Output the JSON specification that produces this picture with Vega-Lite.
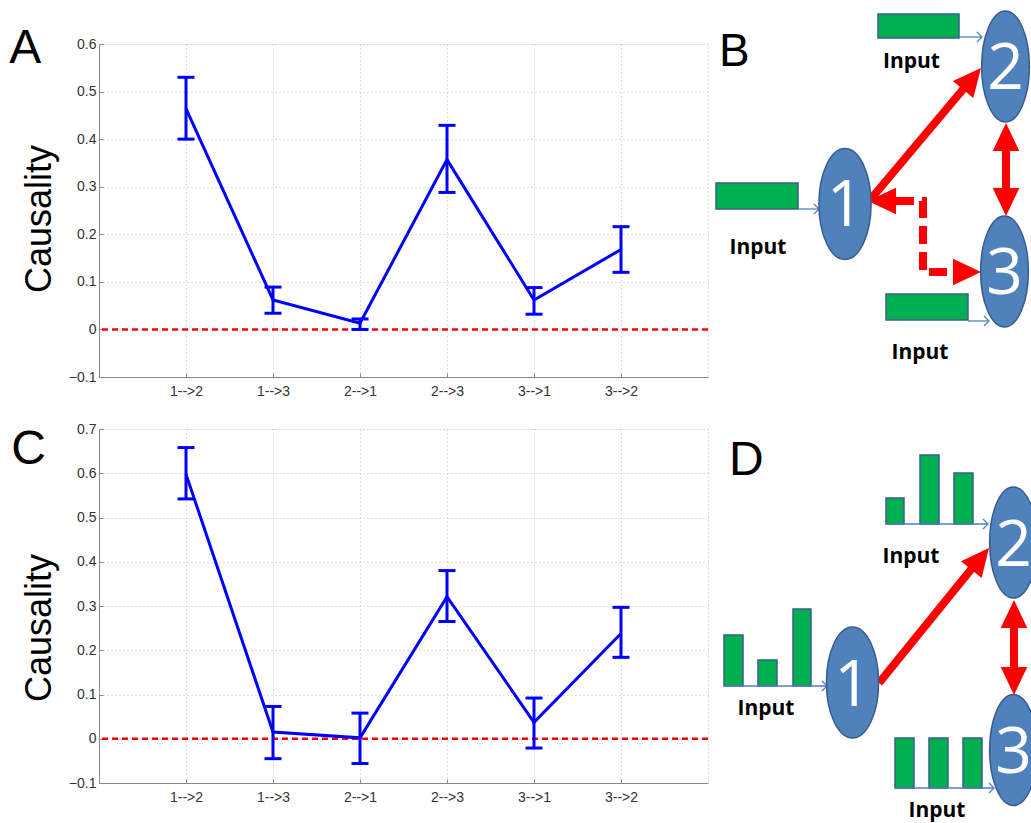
{
  "$schema": "https://vega.github.io/schema/vega-lite/v6.json",
  "padding": {"left": 8, "top": 8, "right": 0, "bottom": 0},
  "background": "white",
  "config": {"view": {"stroke": null}, "font": "Liberation Sans"},
  "datasets": {
    "A": [
      {"pair": "1-->2", "mean": 0.464, "lo": 0.40, "hi": 0.53},
      {"pair": "1-->3", "mean": 0.062, "lo": 0.034, "hi": 0.089},
      {"pair": "2-->1", "mean": 0.013, "lo": 0.0, "hi": 0.022},
      {"pair": "2-->3", "mean": 0.357, "lo": 0.288, "hi": 0.429},
      {"pair": "3-->1", "mean": 0.062, "lo": 0.032, "hi": 0.088},
      {"pair": "3-->2", "mean": 0.168, "lo": 0.12, "hi": 0.216}
    ],
    "C": [
      {"pair": "1-->2", "mean": 0.598, "lo": 0.542, "hi": 0.658},
      {"pair": "1-->3", "mean": 0.015, "lo": -0.045, "hi": 0.073},
      {"pair": "2-->1", "mean": 0.002, "lo": -0.056, "hi": 0.058},
      {"pair": "2-->3", "mean": 0.321, "lo": 0.265, "hi": 0.38},
      {"pair": "3-->1", "mean": 0.037, "lo": -0.021, "hi": 0.092},
      {"pair": "3-->2", "mean": 0.238, "lo": 0.184, "hi": 0.297}
    ],
    "Bnodes": [
      {"node": "1", "x": 135, "y": 203},
      {"node": "2", "x": 295.5, "y": 65.5},
      {"node": "3", "x": 294.5, "y": 270.5}
    ],
    "Brects": [
      {"x0": 6, "x1": 88, "y0": 182, "y1": 208},
      {"x0": 168, "x1": 249, "y0": 13, "y1": 37},
      {"x0": 176, "x1": 258, "y0": 293, "y1": 319}
    ],
    "Bthin": [
      {"x0": 88, "x1": 109, "y": 208},
      {"x0": 249, "x1": 272, "y": 36},
      {"x0": 258, "x1": 279, "y": 320}
    ],
    "Bred": [
      {"x0": 160, "y0": 199, "x1": 255, "y1": 86},
      {"x0": 296, "y0": 145, "x1": 296, "y1": 192}
    ],
    "Bdash": [
      {"o": 1, "x": 186, "y": 200},
      {"o": 2, "x": 213, "y": 200},
      {"o": 3, "x": 213, "y": 271},
      {"o": 4, "x": 247, "y": 271}
    ],
    "Bheads": [
      {"x": 271, "y": 67, "angle": 309.8},
      {"x": 158, "y": 200, "angle": 180},
      {"x": 271, "y": 271, "angle": 0},
      {"x": 296, "y": 122, "angle": 270},
      {"x": 296, "y": 215, "angle": 90}
    ],
    "Btext": [
      {"t": "Input", "x": 48, "y": 253},
      {"t": "Input", "x": 201.5, "y": 67},
      {"t": "Input", "x": 210, "y": 358}
    ],
    "Blabel": [{"t": "B", "x": 9, "y": 65}],
    "Dnodes": [
      {"node": "1", "x": 142.5, "y": 272.5},
      {"node": "2", "x": 303.5, "y": 132.5},
      {"node": "3", "x": 303.5, "y": 340}
    ],
    "Dbars": [
      {"x0": 14, "x1": 33, "top": 225, "base": 276},
      {"x0": 48, "x1": 67, "top": 250, "base": 276},
      {"x0": 83, "x1": 101, "top": 199, "base": 276},
      {"x0": 176, "x1": 194, "top": 88, "base": 114},
      {"x0": 210, "x1": 229, "top": 45, "base": 114},
      {"x0": 244, "x1": 263, "top": 63, "base": 114},
      {"x0": 185, "x1": 204, "top": 328, "base": 378},
      {"x0": 219, "x1": 238, "top": 328, "base": 378},
      {"x0": 253, "x1": 272, "top": 328, "base": 378}
    ],
    "Dthin": [
      {"x0": 14, "x1": 117, "y": 276},
      {"x0": 176, "x1": 278, "y": 114},
      {"x0": 185, "x1": 284, "y": 378}
    ],
    "Dred": [
      {"x0": 169, "y0": 273, "x1": 263, "y1": 157},
      {"x0": 304, "y0": 212, "x1": 304, "y1": 263}
    ],
    "Dheads": [
      {"x": 279, "y": 138, "angle": 309.2},
      {"x": 304, "y": 190, "angle": 270},
      {"x": 304, "y": 285, "angle": 90}
    ],
    "Dtext": [
      {"t": "Input", "x": 56, "y": 305},
      {"t": "Input", "x": 201, "y": 153},
      {"t": "Input", "x": 227, "y": 407}
    ],
    "Dlabel": [{"t": "D", "x": 19, "y": 65}]
  },
  "spacing": 22,
  "vconcat": [
    {
      "spacing": 0,
      "hconcat": [
        {
          "width": 609,
          "height": 333,
          "view": {"stroke": "#c0c0c0", "strokeDash": [1, 3]},
          "title": {"text": "A", "anchor": "start", "frame": "bounds", "orient": "top", "fontSize": 48, "font": "Liberation Sans", "fontWeight": "normal", "color": "#000", "baseline": "alphabetic", "offset": -74, "dx": -12},
          "layer": [
            {"data": {"values": [{}]}, "mark": {"type": "rule", "color": "#FF0000", "strokeWidth": 2.5, "strokeDash": [6, 4]},
             "encoding": {"y": {"datum": 0, "type": "quantitative", "scale": {"domain": [-0.1, 0.6], "nice": false, "zero": false}}}},
            {"data": {"name": "A"}, "mark": {"type": "rule", "color": "#0000FF", "strokeWidth": 3},
             "encoding": {
               "x": {"field": "pair", "type": "ordinal", "sort": null, "scale": {"type": "point", "padding": 1}, "axis": {"title": null, "labelAngle": 0, "labelFont": "Liberation Sans", "labelFontSize": 14, "labelColor": "#333", "labelPadding": 11, "tickSize": -4, "tickColor": "#888", "domainColor": "#888", "grid": true, "gridColor": "#c0c0c0", "gridDash": [1, 3]}},
               "y": {"field": "lo", "type": "quantitative", "scale": {"domain": [-0.1, 0.6], "nice": false, "zero": false}, "axis": {"title": "Causality", "titleFontSize": 36, "titleFont": "Liberation Sans", "titleFontWeight": "normal", "titleColor": "#000", "titlePadding": 10, "titleY": 174.5, "values": [-0.1, 0, 0.1, 0.2, 0.3, 0.4, 0.5, 0.6], "format": "~g", "labelFont": "Liberation Sans", "labelFontSize": 14, "labelColor": "#333", "labelPadding": 7, "tickSize": -4, "tickColor": "#888", "domainColor": "#888", "grid": true, "gridColor": "#c0c0c0", "gridDash": [1, 3]}},
               "y2": {"field": "hi"}
             }},
            {"data": {"name": "A"}, "mark": {"type": "tick", "color": "#0000FF", "thickness": 3, "size": 17, "opacity": 1},
             "encoding": {"x": {"field": "pair", "type": "ordinal", "sort": null}, "y": {"field": "lo", "type": "quantitative"}}},
            {"data": {"name": "A"}, "mark": {"type": "tick", "color": "#0000FF", "thickness": 3, "size": 17, "opacity": 1},
             "encoding": {"x": {"field": "pair", "type": "ordinal", "sort": null}, "y": {"field": "hi", "type": "quantitative"}}},
            {"data": {"name": "A"}, "mark": {"type": "line", "color": "#0000FF", "strokeWidth": 3},
             "encoding": {"x": {"field": "pair", "type": "ordinal", "sort": null}, "y": {"field": "mean", "type": "quantitative"}}}
          ]
        },
        {
          "width": 322,
          "height": 333,
          "layer": [
            {"data": {"name": "Brects"}, "mark": {"type": "rect", "fill": "#00B050", "stroke": "#385D8A", "strokeWidth": 1.5},
             "encoding": {"x": {"field": "x0", "type": "quantitative", "scale": {"domain": [0, 322], "nice": false, "zero": false}, "axis": null}, "x2": {"field": "x1"},
                          "y": {"field": "y0", "type": "quantitative", "scale": {"domain": [376, 43], "nice": false, "zero": false}, "axis": null}, "y2": {"field": "y1"}}},
            {"data": {"name": "Bthin"}, "mark": {"type": "rule", "color": "#4F81BD", "strokeWidth": 1.3},
             "encoding": {"x": {"field": "x0", "type": "quantitative"}, "x2": {"field": "x1"}, "y": {"field": "y", "type": "quantitative"}}},
            {"data": {"name": "Bthin"}, "mark": {"type": "point", "shape": "M-1,-1L0,0L-1,1", "filled": false, "stroke": "#4F81BD", "strokeWidth": 1.3, "size": 100, "opacity": 1},
             "encoding": {"x": {"field": "x1", "type": "quantitative"}, "y": {"field": "y", "type": "quantitative"}}},
            {"data": {"name": "Bred"}, "mark": {"type": "rule", "color": "#FF0000", "strokeWidth": 8},
             "encoding": {"x": {"field": "x0", "type": "quantitative"}, "y": {"field": "y0", "type": "quantitative"}, "x2": {"field": "x1"}, "y2": {"field": "y1"}}},
            {"data": {"name": "Bdash"}, "mark": {"type": "line", "color": "#FF0000", "strokeWidth": 8, "strokeDash": [18, 8], "strokeJoin": "miter"},
             "encoding": {"x": {"field": "x", "type": "quantitative"}, "y": {"field": "y", "type": "quantitative"}, "order": {"field": "o", "type": "quantitative"}}},
            {"data": {"name": "Bheads"}, "mark": {"type": "point", "shape": "M0,0L-2,-0.95L-2,0.95Z", "filled": true, "color": "#FF0000", "size": 784, "opacity": 1},
             "encoding": {"x": {"field": "x", "type": "quantitative"}, "y": {"field": "y", "type": "quantitative"}, "angle": {"field": "angle", "type": "quantitative", "scale": null}}},
            {"data": {"name": "Bnodes"}, "mark": {"type": "point", "filled": true, "fill": "#4F81BD", "stroke": "#385D8A", "strokeWidth": 1.5, "size": 12321, "opacity": 1},
             "encoding": {"x": {"field": "x", "type": "quantitative"}, "y": {"field": "y", "type": "quantitative"},
                          "shape": {"field": "node", "type": "nominal", "legend": null, "scale": {"domain": ["1", "2", "3"], "range": ["M-0.47,0A0.47,1,0,1,0,0.47,0A0.47,1,0,1,0,-0.47,0Z", "M-0.43,0A0.43,1,0,1,0,0.43,0A0.43,1,0,1,0,-0.43,0Z", "M-0.43,0A0.43,1,0,1,0,0.43,0A0.43,1,0,1,0,-0.43,0Z"]}}}},
            {"data": {"name": "Bnodes"}, "mark": {"type": "text", "color": "#FFFFFF", "font": "Open Sans", "fontSize": 64, "baseline": "middle", "align": "center", "dy": 3},
             "encoding": {"x": {"field": "x", "type": "quantitative"}, "y": {"field": "y", "type": "quantitative"}, "text": {"field": "node"}}},
            {"data": {"name": "Btext"}, "mark": {"type": "text", "color": "#000", "font": "Open Sans", "fontWeight": "bold", "fontSize": 21, "baseline": "alphabetic", "align": "center"},
             "encoding": {"x": {"field": "x", "type": "quantitative"}, "y": {"field": "y", "type": "quantitative"}, "text": {"field": "t"}}},
            {"data": {"name": "Blabel"}, "mark": {"type": "text", "color": "#000", "font": "Liberation Sans", "fontSize": 46, "baseline": "alphabetic", "align": "left"},
             "encoding": {"x": {"field": "x", "type": "quantitative"}, "y": {"field": "y", "type": "quantitative"}, "text": {"field": "t"}}}
          ]
        }
      ]
    },
    {
      "spacing": 0,
      "hconcat": [
        {
          "width": 609,
          "height": 354,
          "view": {"stroke": "#c0c0c0", "strokeDash": [1, 3]},
          "title": {"text": "C", "anchor": "start", "frame": "bounds", "orient": "top", "fontSize": 48, "font": "Liberation Sans", "fontWeight": "normal", "color": "#000", "baseline": "alphabetic", "offset": -90, "dx": -10},
          "layer": [
            {"data": {"values": [{}]}, "mark": {"type": "rule", "color": "#FF0000", "strokeWidth": 2.5, "strokeDash": [6, 4]},
             "encoding": {"y": {"datum": 0, "type": "quantitative", "scale": {"domain": [-0.1, 0.7], "nice": false, "zero": false}}}},
            {"data": {"name": "C"}, "mark": {"type": "rule", "color": "#0000FF", "strokeWidth": 3},
             "encoding": {
               "x": {"field": "pair", "type": "ordinal", "sort": null, "scale": {"type": "point", "padding": 1}, "axis": {"title": null, "labelAngle": 0, "labelFont": "Liberation Sans", "labelFontSize": 14, "labelColor": "#333", "labelPadding": 11, "tickSize": -4, "tickColor": "#888", "domainColor": "#888", "grid": true, "gridColor": "#c0c0c0", "gridDash": [1, 3]}},
               "y": {"field": "lo", "type": "quantitative", "scale": {"domain": [-0.1, 0.7], "nice": false, "zero": false}, "axis": {"title": "Causality", "titleFontSize": 36, "titleFont": "Liberation Sans", "titleFontWeight": "normal", "titleColor": "#000", "titlePadding": 10, "titleY": 198.5, "values": [-0.1, 0, 0.1, 0.2, 0.3, 0.4, 0.5, 0.6, 0.7], "format": "~g", "labelFont": "Liberation Sans", "labelFontSize": 14, "labelColor": "#333", "labelPadding": 7, "tickSize": -4, "tickColor": "#888", "domainColor": "#888", "grid": true, "gridColor": "#c0c0c0", "gridDash": [1, 3]}},
               "y2": {"field": "hi"}
             }},
            {"data": {"name": "C"}, "mark": {"type": "tick", "color": "#0000FF", "thickness": 3, "size": 17, "opacity": 1},
             "encoding": {"x": {"field": "pair", "type": "ordinal", "sort": null}, "y": {"field": "lo", "type": "quantitative"}}},
            {"data": {"name": "C"}, "mark": {"type": "tick", "color": "#0000FF", "thickness": 3, "size": 17, "opacity": 1},
             "encoding": {"x": {"field": "pair", "type": "ordinal", "sort": null}, "y": {"field": "hi", "type": "quantitative"}}},
            {"data": {"name": "C"}, "mark": {"type": "line", "color": "#0000FF", "strokeWidth": 3},
             "encoding": {"x": {"field": "pair", "type": "ordinal", "sort": null}, "y": {"field": "mean", "type": "quantitative"}}}
          ]
        },
        {
          "width": 322,
          "height": 394,
          "layer": [
            {"data": {"name": "Dbars"}, "mark": {"type": "rect", "fill": "#00B050", "stroke": "#385D8A", "strokeWidth": 1.5, "clip": true},
             "encoding": {"x": {"field": "x0", "type": "quantitative", "scale": {"domain": [0, 322], "nice": false, "zero": false}, "axis": null}, "x2": {"field": "x1"},
                          "y": {"field": "top", "type": "quantitative", "scale": {"domain": [413, 19], "nice": false, "zero": false}, "axis": null}, "y2": {"field": "base"}}},
            {"data": {"name": "Dthin"}, "mark": {"type": "rule", "color": "#4F81BD", "strokeWidth": 1.3, "clip": true},
             "encoding": {"x": {"field": "x0", "type": "quantitative"}, "x2": {"field": "x1"}, "y": {"field": "y", "type": "quantitative"}}},
            {"data": {"name": "Dthin"}, "mark": {"type": "point", "shape": "M-1,-1L0,0L-1,1", "filled": false, "stroke": "#4F81BD", "strokeWidth": 1.3, "size": 100, "opacity": 1, "clip": true},
             "encoding": {"x": {"field": "x1", "type": "quantitative"}, "y": {"field": "y", "type": "quantitative"}}},
            {"data": {"name": "Dred"}, "mark": {"type": "rule", "color": "#FF0000", "strokeWidth": 8, "clip": true},
             "encoding": {"x": {"field": "x0", "type": "quantitative"}, "y": {"field": "y0", "type": "quantitative"}, "x2": {"field": "x1"}, "y2": {"field": "y1"}}},
            {"data": {"name": "Dheads"}, "mark": {"type": "point", "shape": "M0,0L-2,-0.95L-2,0.95Z", "filled": true, "color": "#FF0000", "size": 784, "opacity": 1, "clip": true},
             "encoding": {"x": {"field": "x", "type": "quantitative"}, "y": {"field": "y", "type": "quantitative"}, "angle": {"field": "angle", "type": "quantitative", "scale": null}}},
            {"data": {"name": "Dnodes"}, "mark": {"type": "point", "filled": true, "fill": "#4F81BD", "stroke": "#385D8A", "strokeWidth": 1.5, "size": 12321, "opacity": 1, "clip": true},
             "encoding": {"x": {"field": "x", "type": "quantitative"}, "y": {"field": "y", "type": "quantitative"},
                          "shape": {"field": "node", "type": "nominal", "legend": null, "scale": {"domain": ["1", "2", "3"], "range": ["M-0.47,0A0.47,1,0,1,0,0.47,0A0.47,1,0,1,0,-0.47,0Z", "M-0.43,0A0.43,1,0,1,0,0.43,0A0.43,1,0,1,0,-0.43,0Z", "M-0.43,0A0.43,1,0,1,0,0.43,0A0.43,1,0,1,0,-0.43,0Z"]}}}},
            {"data": {"name": "Dnodes"}, "mark": {"type": "text", "color": "#FFFFFF", "font": "Open Sans", "fontSize": 64, "baseline": "middle", "align": "center", "dy": 4, "clip": true},
             "encoding": {"x": {"field": "x", "type": "quantitative"}, "y": {"field": "y", "type": "quantitative"}, "text": {"field": "node"}}},
            {"data": {"name": "Dtext"}, "mark": {"type": "text", "color": "#000", "font": "Open Sans", "fontWeight": "bold", "fontSize": 21, "baseline": "alphabetic", "align": "center", "clip": true},
             "encoding": {"x": {"field": "x", "type": "quantitative"}, "y": {"field": "y", "type": "quantitative"}, "text": {"field": "t"}}},
            {"data": {"name": "Dlabel"}, "mark": {"type": "text", "color": "#000", "font": "Liberation Sans", "fontSize": 48, "baseline": "alphabetic", "align": "left", "clip": true},
             "encoding": {"x": {"field": "x", "type": "quantitative"}, "y": {"field": "y", "type": "quantitative"}, "text": {"field": "t"}}}
          ]
        }
      ]
    }
  ]
}
